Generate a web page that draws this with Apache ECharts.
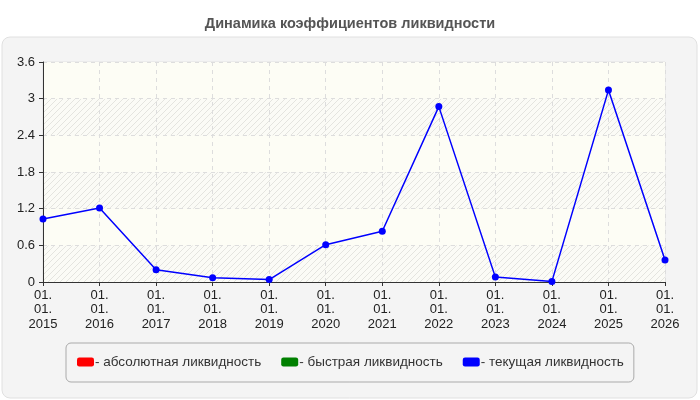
<!DOCTYPE html>
<html>
<head>
<meta charset="utf-8">
<script src="https://cdn.jsdelivr.net/npm/echarts@6/dist/echarts.min.js"></script>
<style>
  html, body { margin: 0; padding: 0; background: #fff; }
  #main { width: 700px; height: 400px; }
</style>
</head>
<body>
<div id="main"></div>
<script>
// данные графика
var years = ['2015', '2016', '2017', '2018', '2019', '2020', '2021', '2022', '2023', '2024', '2025', '2026'];
var absLiquidity = [];
var quickLiquidity = [];
var currentLiquidity = [1.03, 1.21, 0.2, 0.07, 0.04, 0.61, 0.83, 2.87, 0.08, 0.01, 3.14, 0.36];
var seriesNames = ['- абсолютная ликвидность', '- быстрая ликвидность', '- текущая ликвидность'];

var myChart = echarts.init(document.getElementById('main'));

// штриховка фона
var hatch = document.createElement('canvas');
hatch.width = 6;
hatch.height = 6;
var ctx = hatch.getContext('2d');
ctx.fillStyle = '#fbfbf6';
ctx.fillRect(0, 0, 6, 6);
ctx.strokeStyle = 'rgba(0,0,0,0.09)';
ctx.lineWidth = 1;
ctx.beginPath();
ctx.moveTo(0, 6); ctx.lineTo(6, 0);
ctx.moveTo(-3, 3); ctx.lineTo(3, -3);
ctx.moveTo(3, 9); ctx.lineTo(9, 3);
ctx.stroke();

var option = {
    animation: false,
    textStyle: { fontFamily: 'Arial, "Liberation Sans", sans-serif' },
    title: {
        text: 'Динамика коэффициентов ликвидности',
        left: 'center',
        top: 11,
        textStyle: { fontSize: 14.5, fontWeight: 'bold', color: '#555' }
    },
    graphic: [{
        type: 'rect',
        z: -10,
        shape: { x: 2, y: 37, width: 695, height: 361, r: 8 },
        style: { fill: '#f4f4f4', stroke: '#e0e0e0', lineWidth: 1 }
    }],
    grid: {
        left: 43,
        right: 35,
        top: 62,
        bottom: 118,
        show: true,
        backgroundColor: '#fdfdf5',
        borderColor: '#e2e2e2',
        borderWidth: 1
    },
    legend: {
        data: seriesNames,
        bottom: 18,
        left: 66,
        padding: [12, 10, 13, 11],
        itemGap: 20,
        itemWidth: 17,
        itemHeight: 9,
        icon: 'roundRect',
        borderColor: '#aaa',
        borderWidth: 1,
        borderRadius: 5,
        textStyle: { fontSize: 13.5, color: '#333', padding: [0, 0, 0, -4] }
    },
    xAxis: {
        type: 'category',
        data: years,
        boundaryGap: false,
        axisLine: { lineStyle: { color: '#333' } },
        axisTick: { show: true, length: 4, lineStyle: { color: '#333' } },
        axisLabel: {
            color: '#222',
            fontSize: 13,
            lineHeight: 14.5,
            margin: 6,
            interval: 0,
            formatter: function (v) { return '01.\n01.\n' + v; }
        },
        splitLine: { show: true, lineStyle: { color: '#ddd', type: [4, 4] } }
    },
    yAxis: {
        type: 'value',
        min: 0,
        max: 3.6,
        interval: 0.6,
        axisLine: { show: true, lineStyle: { color: '#333' } },
        axisTick: { show: true, length: 4, lineStyle: { color: '#333' } },
        axisLabel: {
            color: '#222',
            fontSize: 13,
            margin: 8,
            formatter: function (v) { return +v.toFixed(1) + ''; }
        },
        splitLine: { show: true, lineStyle: { color: '#ddd', type: [4, 4] } },
        splitArea: {
            show: true,
            areaStyle: { color: [{ image: hatch, repeat: 'repeat' }, '#fdfdf5'] }
        }
    },
    series: [
        {
            name: seriesNames[0], type: 'line', data: absLiquidity,
            itemStyle: { color: '#ff0000' }
        },
        {
            name: seriesNames[1], type: 'line', data: quickLiquidity,
            itemStyle: { color: '#008000' }
        },
        {
            name: seriesNames[2], type: 'line', data: currentLiquidity,
            symbol: 'circle', symbolSize: 7,
            itemStyle: { color: '#0000ff' },
            lineStyle: { color: '#0000ff', width: 1.5 }
        }
    ]
};

myChart.setOption(option);
</script>
</body>
</html>
